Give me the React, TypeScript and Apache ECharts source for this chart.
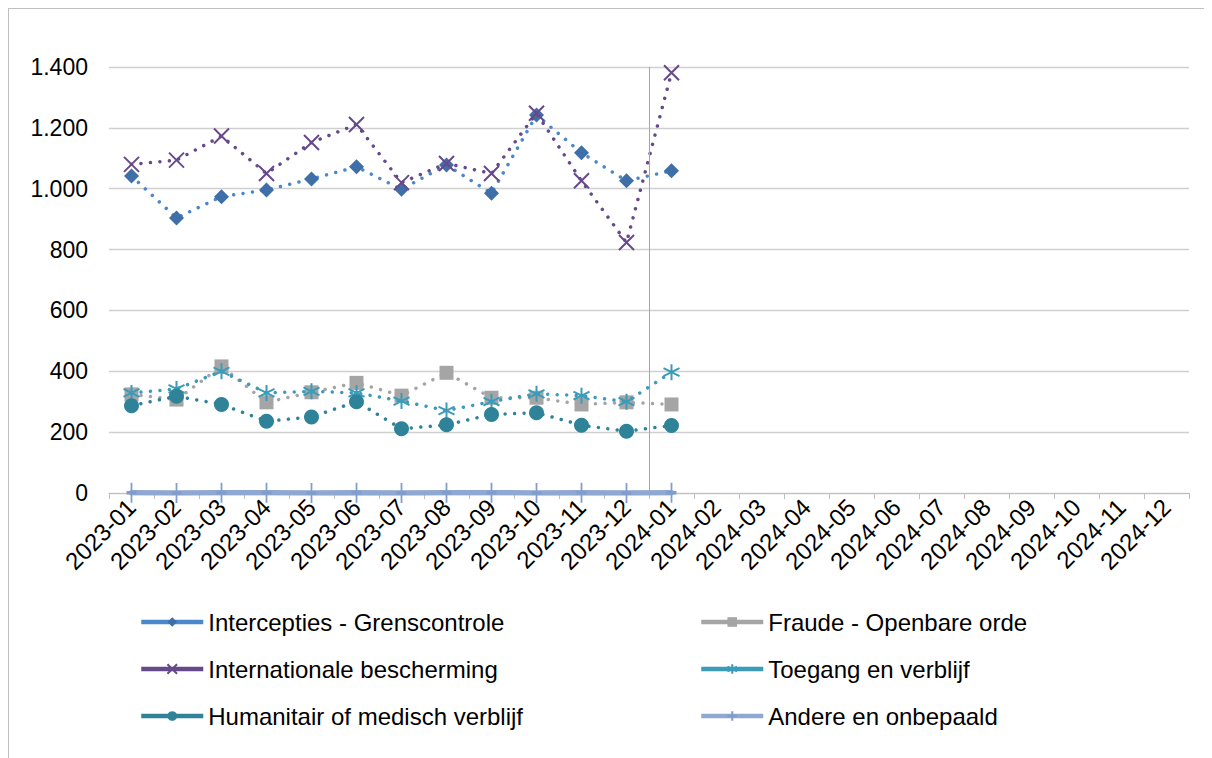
import React, { useEffect, useRef } from "react";
import * as echarts from "echarts";

const months = [
  "2023-01", "2023-02", "2023-03", "2023-04", "2023-05", "2023-06",
  "2023-07", "2023-08", "2023-09", "2023-10", "2023-11", "2023-12",
  "2024-01", "2024-02", "2024-03", "2024-04", "2024-05", "2024-06",
  "2024-07", "2024-08", "2024-09", "2024-10", "2024-11", "2024-12",
];

const intercepties = [1042, 904, 974, 996, 1032, 1072, 998, 1078, 985, 1242, 1118, 1026, 1059];
const fraude = [324, 307, 416, 298, 331, 362, 320, 395, 313, 313, 291, 298, 291];
const internationale = [1080, 1094, 1173, 1050, 1152, 1211, 1020, 1083, 1050, 1248, 1026, 823, 1381];
const toegang = [329, 342, 400, 329, 334, 329, 302, 271, 300, 326, 320, 300, 397];
const humanitair = [287, 318, 291, 236, 250, 300, 211, 224, 258, 264, 223, 203, 222];
const andere = [1, 0, 1, 1, 0, 1, 0, 1, 1, 0, 1, 0, 1];

const yTicks = { min: 0, max: 1400, interval: 200 };

const FONT = "'Liberation Sans', Arial, sans-serif";

const SYM_X = "path://M0,0L10,10M10,0L0,10";
const SYM_STAR = "path://M5,0L5,10M0.67,2.5L9.33,7.5M0.67,7.5L9.33,2.5";
const SYM_PLUS = "path://M5,0L5,10M0,5L10,5";

function dotted(color: string) {
  return { color, width: 3.5, type: [0.01, 9.5] as any, cap: "round" as any };
}

export default function App() {
  const ref = useRef<HTMLDivElement>(null);
  useEffect(() => {
    if (!ref.current) return;
    const chart = echarts.init(ref.current, undefined, { renderer: "svg" });
    const fmt = (v: number) => String(v).replace(/\B(?=(\d{3})+(?!\d))/g, ".");
    const legendCommon = {
      orient: "vertical",
      top: 596,
      itemGap: 23,
      itemWidth: 62,
      itemHeight: 12,
      textStyle: { fontSize: 24, lineHeight: 24, fontFamily: FONT, color: "#000" },
      lineStyle: { type: "solid", width: 4.5, cap: "butt" },
      selectedMode: false,
    };
    chart.setOption({
      animation: false,
      backgroundColor: "#fff",
      grid: { left: 100, right: 23, top: 58, bottom: 265, containLabel: false },
      legend: [
        { ...legendCommon, left: 125, data: ["Intercepties - Grenscontrole", "Internationale bescherming", "Humanitair of medisch verblijf"] },
        { ...legendCommon, left: 685, data: ["Fraude - Openbare orde", "Toegang en verblijf", "Andere en onbepaald"] },
      ],
      xAxis: [
        {
          type: "category",
          data: months,
          boundaryGap: true,
          axisLine: { show: true, lineStyle: { color: "#bfbfbf", width: 1 } },
          axisTick: { show: true, interval: 0, length: 6, lineStyle: { color: "#bfbfbf" } },
          axisLabel: { interval: 0, rotate: 45, fontSize: 24, fontFamily: FONT, color: "#000", margin: 10 },
          splitLine: { show: false },
        },
        { type: "value", min: 0, max: 24, show: false },
      ],
      yAxis: {
        type: "value",
        min: yTicks.min,
        max: yTicks.max,
        interval: yTicks.interval,
        axisLine: { show: false },
        axisTick: { show: false },
        axisLabel: { fontSize: 23, fontFamily: FONT, color: "#000", margin: 21, formatter: fmt },
        splitLine: { lineStyle: { color: "#d0d0d0", width: 1.3 } },
      },
      series: [
        {
          name: "Intercepties - Grenscontrole",
          type: "line",
          data: intercepties,
          symbol: "diamond",
          symbolSize: 15,
          lineStyle: dotted("#4a88cb"),
          itemStyle: { color: "#3e6fa8" },
          z: 2,
        },
        {
          name: "Fraude - Openbare orde",
          type: "line",
          data: fraude,
          symbol: "rect",
          symbolSize: 14,
          lineStyle: dotted("#a5a5a5"),
          itemStyle: { color: "#a5a5a5" },
          z: 3,
        },
        {
          name: "Internationale bescherming",
          type: "line",
          data: internationale,
          symbol: SYM_X,
          symbolSize: 15,
          lineStyle: dotted("#66498a"),
          itemStyle: { color: "#66498a", borderColor: "#66498a", borderWidth: 2 },
          z: 4,
        },
        {
          name: "Toegang en verblijf",
          type: "line",
          data: toegang,
          symbol: SYM_STAR,
          symbolSize: 16,
          lineStyle: dotted("#3b9bb8"),
          itemStyle: { color: "#3b9bb8", borderColor: "#3b9bb8", borderWidth: 2 },
          z: 5,
        },
        {
          name: "Humanitair of medisch verblijf",
          type: "line",
          data: humanitair,
          symbol: "circle",
          symbolSize: 15,
          lineStyle: dotted("#2f8399"),
          itemStyle: { color: "#2f8399" },
          z: 6,
        },
        {
          name: "Andere en onbepaald",
          type: "line",
          data: andere,
          symbol: SYM_PLUS,
          symbolSize: [10, 20],
          symbolKeepAspect: false,
          lineStyle: { color: "#8fa8d2", width: 5.5, type: "solid", cap: "round" },
          itemStyle: { color: "#809dcc", borderColor: "#809dcc", borderWidth: 2.5 },
          z: 7,
        },
        {
          name: "divider",
          type: "line",
          xAxisIndex: 1,
          yAxisIndex: 0,
          data: [],
          markLine: {
            silent: true,
            symbol: "none",
            label: { show: false },
            lineStyle: { color: "#a6a6a6", width: 1, type: "solid" },
            data: [{ xAxis: 12 }],
          },
          z: 1,
        },
      ],
    });
    return () => chart.dispose();
  }, []);
  return (
    <div
      style={{
        width: 1204,
        height: 750,
        borderLeft: "1px solid #bfbfbf",
        borderTop: "1px solid #bfbfbf",
        boxSizing: "border-box",
        overflow: "hidden",
      }}
    >
      <div ref={ref} style={{ width: 1203, height: 749 }} />
    </div>
  );
}
